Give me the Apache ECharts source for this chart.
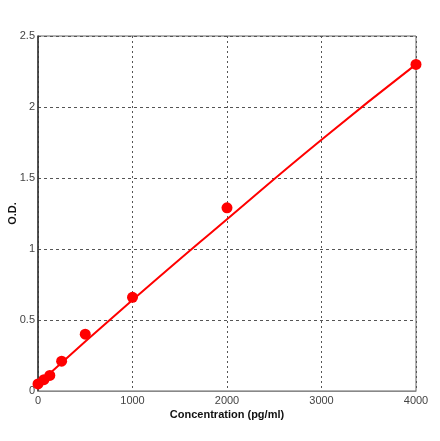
<!DOCTYPE html>
<html>
<head>
<meta charset="UTF-8">
<title>Standard curve</title>
<script src="https://cdn.jsdelivr.net/npm/echarts@6/dist/echarts.min.js"></script>
<style>
  html, body { margin: 0; padding: 0; background: #fff; }
  #main { width: 440px; height: 441px; }
</style>
</head>
<body>
<div id="main"></div>
<script type="text/javascript">
// standard points
var conc = [0, 62.5, 125, 250, 500, 1000, 2000, 4000];
var od = [0.05, 0.08, 0.11, 0.21, 0.40, 0.66, 1.29, 2.30];
// fitted curve
var fitConc = [0, 1000, 2000, 3000, 4000];
var fitOd = [0.05, 0.64, 1.21, 1.77, 2.30];

var pts = conc.map(function (c, i) { return [c, od[i]]; });
var fit = fitConc.map(function (c, i) { return [c, fitOd[i]]; });

var myChart = echarts.init(document.getElementById('main'));
var font = 'Liberation Sans, Arial, sans-serif';

var option = {
    animation: false,
    grid: {
        left: 38, right: 24, top: 36, bottom: 50,
        outerBoundsMode: 'none',
        containLabel: false,
        show: true, borderColor: '#666', borderWidth: 1
    },
    xAxis: {
        type: 'value',
        min: 0, max: 4000, interval: 1000,
        name: 'Concentration (pg/ml)',
        nameLocation: 'middle',
        nameGap: 18,
        nameMoveOverlap: false,
        nameTextStyle: { fontFamily: font, fontWeight: 'bold', fontSize: 11, color: '#111' },
        axisLine: { show: true, lineStyle: { color: '#888', width: 1 } },
        axisTick: { show: false },
        axisLabel: { fontFamily: font, fontSize: 11, color: '#444', margin: 4,
            formatter: function (v) { return String(v); } },
        splitLine: { show: true, lineStyle: { color: '#555', type: [2, 3], width: 1 } }
    },
    yAxis: {
        type: 'value',
        min: 0, max: 2.5, interval: 0.5,
        name: 'O.D.',
        nameLocation: 'middle',
        nameGap: 20,
        nameMoveOverlap: false,
        nameTextStyle: { fontFamily: font, fontWeight: 'bold', fontSize: 11, color: '#111' },
        axisLine: { show: true, lineStyle: { color: '#333', width: 1.5 } },
        axisTick: { show: false },
        axisLabel: { fontFamily: font, fontSize: 11, color: '#444', margin: 3 },
        splitLine: { show: true, lineStyle: { color: '#555', type: [3, 3], width: 1 } }
    },
    series: [
        {
            type: 'line',
            data: fit,
            smooth: true,
            showSymbol: false,
            lineStyle: { color: '#ff0000', width: 2 },
            z: 2
        },
        {
            type: 'scatter',
            data: pts,
            symbol: 'circle',
            symbolSize: 11,
            itemStyle: { color: '#ff0000', opacity: 1 },
            z: 3
        }
    ]
};
myChart.setOption(option);
</script>
</body>
</html>
